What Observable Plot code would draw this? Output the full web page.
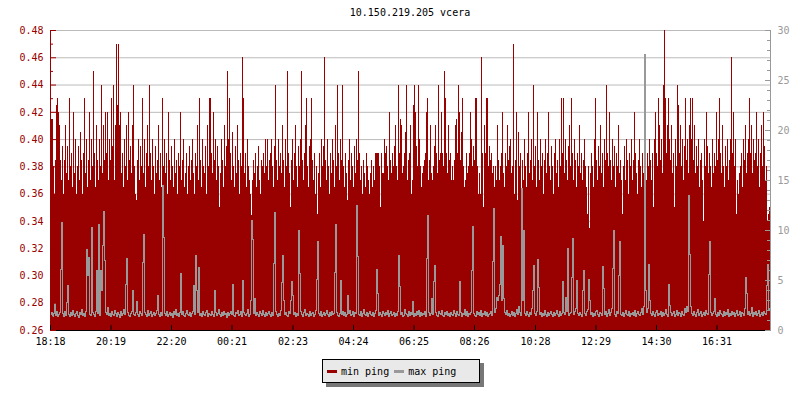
<!DOCTYPE html>
<html>
<head>
<meta charset="utf-8">
<script src="https://cdn.jsdelivr.net/npm/d3@7"></script>
<script src="https://cdn.jsdelivr.net/npm/@observablehq/plot@0.6"></script>
<style>
  html, body { margin: 0; padding: 0; background: #fff; }
  body { width: 800px; height: 400px; position: relative; overflow: hidden; font-family: "DejaVu Sans Mono", monospace; }
  #title { position: absolute; left: 50px; top: 0; width: 720px; height: 26px; line-height: 26px; text-align: center; font-size: 10px; color: #000; }
  #chart { position: absolute; left: 0; top: 26px; }
  #legend { position: absolute; left: 322px; top: 359px; width: 152px; height: 22px; border: 1px solid #000; background: #e9e9e9; box-shadow: 4px 4px 0 #777; display: flex; align-items: center; font-size: 10px; color: #000; box-sizing: content-box; padding-left: 4px; }
  #legend .sw { display: inline-block; width: 10px; height: 3px; margin-right: 4px; }
  #legend .lab { margin-right: 5px; }
</style>
</head>
<body>
<div id="title">10.150.219.205 vcera</div>
<div id="chart"></div>
<div id="legend"><span class="sw" style="background:#990000"></span><span class="lab">min ping</span><span class="sw" style="background:#999999"></span><span class="lab">max ping</span></div>
<script>
// ---- data (2-minute samples from 18:18 to 18:18 next day) ----
const minPing = [
0.40,0.415,0.415,0.38,0.36,0.385,0.425,0.43,0.42,0.41,0.385,0.37,0.395,0.36,0.385,0.41,0.375,0.395,0.37,0.43,
0.38,0.39,0.365,0.42,0.375,0.40,0.36,0.38,0.395,0.37,0.405,0.385,0.36,0.39,0.43,0.375,0.40,0.365,0.385,0.42,
0.37,0.40,0.38,0.45,0.39,0.365,0.41,0.385,0.37,0.40,0.38,0.44,0.375,0.41,0.385,0.42,0.39,0.42,0.37,0.40,
0.385,0.43,0.395,0.44,0.37,0.41,0.47,0.425,0.47,0.41,0.42,0.375,0.39,0.365,0.40,0.38,0.41,0.37,0.42,0.385,
0.395,0.375,0.41,0.44,0.38,0.36,0.355,0.385,0.40,0.37,0.395,0.38,0.43,0.375,0.40,0.365,0.39,0.41,0.38,0.44,
0.39,0.37,0.40,0.38,0.36,0.395,0.375,0.385,0.41,0.37,0.39,0.365,0.43,0.38,0.40,0.375,0.39,0.36,0.42,0.385,
0.37,0.395,0.38,0.365,0.40,0.375,0.385,0.36,0.39,0.38,0.42,0.37,0.385,0.40,0.365,0.375,0.39,0.36,0.38,0.395,
0.37,0.385,0.40,0.375,0.36,0.39,0.38,0.41,0.37,0.43,0.385,0.365,0.40,0.38,0.375,0.395,0.36,0.41,0.38,0.43,
0.43,0.39,0.375,0.42,0.385,0.40,0.37,0.395,0.38,0.35,0.375,0.40,0.385,0.365,0.41,0.38,0.395,0.45,0.40,0.43,
0.39,0.37,0.405,0.38,0.365,0.395,0.375,0.41,0.385,0.36,0.39,0.38,0.46,0.43,0.375,0.39,0.365,0.40,0.38,0.37,
0.36,0.344,0.37,0.385,0.375,0.39,0.365,0.38,0.395,0.37,0.36,0.385,0.38,0.39,0.375,0.40,0.38,0.40,0.37,0.385,
0.39,0.40,0.38,0.365,0.395,0.44,0.385,0.37,0.40,0.38,0.39,0.375,0.41,0.385,0.365,0.40,0.38,0.45,0.39,0.375,
0.35,0.385,0.40,0.37,0.39,0.41,0.38,0.365,0.395,0.38,0.40,0.45,0.385,0.37,0.39,0.41,0.43,0.38,0.365,0.395,
0.40,0.43,0.385,0.37,0.39,0.36,0.38,0.345,0.375,0.39,0.365,0.40,0.38,0.395,0.46,0.385,0.37,0.40,0.38,0.36,
0.39,0.375,0.40,0.385,0.365,0.41,0.38,0.44,0.39,0.37,0.40,0.385,0.44,0.38,0.365,0.39,0.375,0.355,0.385,0.40,
0.37,0.39,0.38,0.365,0.395,0.375,0.40,0.385,0.45,0.39,0.37,0.38,0.36,0.385,0.375,0.365,0.39,0.38,0.37,0.36,
0.375,0.385,0.365,0.38,0.37,0.39,0.39,0.39,0.39,0.38,0.35,0.39,0.375,0.375,0.40,0.39,0.395,0.38,0.37,0.42,
0.385,0.375,0.39,0.38,0.395,0.41,0.38,0.37,0.44,0.39,0.415,0.41,0.375,0.38,0.39,0.405,0.44,0.37,0.385,0.39,
0.41,0.36,0.37,0.425,0.44,0.42,0.395,0.38,0.44,0.40,0.38,0.365,0.375,0.38,0.385,0.39,0.42,0.43,0.37,0.385,
0.41,0.375,0.37,0.38,0.395,0.41,0.39,0.375,0.44,0.385,0.39,0.42,0.39,0.38,0.45,0.43,0.39,0.375,0.41,0.385,
0.39,0.37,0.38,0.37,0.385,0.41,0.415,0.39,0.44,0.42,0.385,0.405,0.43,0.38,0.365,0.37,0.39,0.375,0.38,0.39,
0.42,0.40,0.38,0.395,0.385,0.43,0.43,0.38,0.36,0.375,0.36,0.46,0.39,0.35,0.41,0.39,0.43,0.43,0.38,0.395,
0.385,0.39,0.375,0.38,0.365,0.38,0.37,0.41,0.385,0.37,0.38,0.39,0.42,0.375,0.365,0.39,0.38,0.41,0.385,0.395,
0.40,0.375,0.38,0.47,0.36,0.385,0.42,0.355,0.405,0.38,0.39,0.355,0.385,0.37,0.40,0.38,0.365,0.39,0.42,0.375,
0.385,0.40,0.37,0.44,0.38,0.395,0.365,0.42,0.385,0.37,0.40,0.38,0.39,0.36,0.385,0.40,0.375,0.39,0.42,0.38,
0.37,0.395,0.38,0.36,0.39,0.40,0.375,0.385,0.365,0.40,0.38,0.43,0.39,0.43,0.375,0.40,0.385,0.37,0.395,0.41,
0.38,0.43,0.39,0.37,0.40,0.385,0.365,0.39,0.38,0.41,0.375,0.39,0.37,0.385,0.40,0.38,0.365,0.345,0.38,0.335,
0.375,0.39,0.38,0.365,0.40,0.43,0.385,0.37,0.395,0.38,0.41,0.375,0.39,0.365,0.40,0.385,0.44,0.39,0.38,0.42,
0.385,0.37,0.40,0.38,0.395,0.365,0.39,0.38,0.41,0.375,0.385,0.37,0.345,0.38,0.395,0.37,0.40,0.385,0.36,0.39,
0.38,0.40,0.37,0.385,0.42,0.39,0.375,0.36,0.385,0.40,0.38,0.365,0.39,0.375,0.385,0.41,0.37,0.39,0.38,0.40,
0.385,0.37,0.39,0.35,0.40,0.42,0.39,0.38,0.43,0.41,0.385,0.40,0.375,0.44,0.48,0.43,0.39,0.41,0.43,0.40,
0.385,0.41,0.375,0.39,0.35,0.40,0.38,0.44,0.425,0.39,0.41,0.38,0.40,0.37,0.395,0.43,0.385,0.40,0.375,0.41,
0.43,0.40,0.43,0.385,0.41,0.375,0.395,0.38,0.40,0.365,0.385,0.39,0.37,0.34,0.40,0.38,0.42,0.395,0.375,0.39,
0.38,0.365,0.40,0.375,0.39,0.38,0.42,0.385,0.40,0.43,0.39,0.375,0.41,0.38,0.365,0.395,0.38,0.40,0.37,0.385,
0.40,0.46,0.39,0.42,0.38,0.40,0.345,0.37,0.36,0.375,0.38,0.39,0.365,0.40,0.385,0.41,0.375,0.39,0.40,0.43,
0.39,0.41,0.375,0.40,0.385,0.39,0.42,0.38,0.40,0.365,0.39,0.41,0.38,0.42,0.395,0.37,0.38,0.34,0.345,0.35
];
const maxPing = [
1.6,1.8,1.4,1.7,2.7,1.5,1.9,1.4,1.6,1.8,6.1,10.8,1.7,1.4,1.9,1.5,2.8,4.5,1.6,1.4,
1.8,1.5,2.0,1.6,1.4,1.7,1.9,1.5,1.3,1.8,1.6,2.1,1.5,1.7,1.4,1.9,8.1,5.5,7.3,1.6,
1.5,10.3,1.8,1.6,1.4,1.9,6.0,1.7,10.6,1.5,6.0,4.0,8.5,11.9,7.0,1.8,1.6,2.3,1.5,1.7,
1.4,1.9,1.6,1.5,2.0,1.7,1.4,1.8,1.6,1.3,1.9,1.5,1.7,2.1,1.6,4.6,7.2,1.8,1.5,1.4,
1.7,1.9,4.0,1.6,1.5,1.8,2.9,1.6,1.4,1.9,1.7,1.5,6.8,9.6,1.8,1.6,1.4,2.0,1.5,1.7,
1.9,1.4,1.6,1.8,1.5,1.7,2.0,3.5,1.6,1.4,1.8,1.5,14.5,9.3,1.7,1.5,1.9,1.4,1.6,1.8,
1.5,1.7,1.3,1.9,1.6,2.1,1.5,1.7,1.4,1.8,5.7,1.6,1.9,1.5,1.4,1.7,2.0,1.6,1.5,1.8,
1.4,1.7,1.9,4.5,1.6,7.5,4.0,1.8,6.3,1.5,1.7,1.4,1.9,1.6,1.5,1.8,2.0,1.4,1.7,1.6,
1.5,1.9,1.6,1.4,4.0,1.8,1.5,1.7,2.1,1.6,1.4,1.8,1.5,1.9,1.6,1.7,1.3,1.8,1.5,1.7,
1.9,1.6,4.6,1.5,1.4,1.8,1.7,2.0,1.5,1.6,1.9,1.4,5.0,1.8,1.6,1.5,1.7,2.1,1.4,1.6,
3.0,11.0,9.1,1.7,3.2,1.5,1.8,1.6,1.4,1.9,1.7,1.5,2.0,1.6,1.4,1.8,1.5,1.7,1.9,1.6,
1.4,1.8,1.5,6.7,11.8,1.9,1.6,1.4,1.7,1.5,2.0,4.8,7.5,3.0,1.6,1.8,1.5,1.4,1.9,1.7,
3.0,4.9,3.5,1.6,1.8,1.4,1.7,1.5,10.0,5.7,1.9,1.6,1.4,1.8,2.1,1.5,1.7,1.6,1.4,1.9,
1.5,1.7,1.8,1.4,1.6,2.0,5.1,8.9,1.7,1.5,1.9,1.4,1.6,1.8,1.5,1.7,2.0,1.6,1.4,1.8,
1.5,1.9,1.6,1.7,5.8,10.6,1.8,1.5,1.4,1.7,5.0,1.6,1.9,1.5,1.8,1.4,1.6,3.5,1.7,2.0,
1.5,1.6,1.9,1.4,1.8,1.7,12.5,7.4,1.6,1.5,1.9,1.4,1.7,2.1,1.6,1.5,1.8,1.4,1.7,1.9,
1.6,1.5,1.8,1.4,1.7,2.0,6.1,3.7,1.5,1.8,1.6,1.4,1.9,1.7,1.5,1.8,1.6,2.0,1.4,1.7,
1.9,1.5,1.6,1.8,1.4,1.7,1.5,1.9,7.5,4.4,1.6,1.8,1.4,1.5,2.1,1.7,1.6,1.4,1.9,1.5,
1.8,1.6,2.9,1.4,1.7,1.5,1.9,1.6,2.0,1.4,1.8,1.5,1.7,1.6,1.9,1.4,7.2,11.5,1.8,1.5,
1.7,3.2,1.6,4.9,6.5,1.8,1.5,1.4,1.9,1.7,1.6,2.0,1.5,1.4,1.8,1.6,1.9,1.5,1.7,1.4,
1.8,1.6,1.5,2.0,1.7,1.4,1.9,1.6,1.5,4.9,1.8,1.4,1.7,1.6,2.1,1.5,1.9,1.4,1.7,1.6,
1.8,6.0,10.4,1.7,1.5,1.4,1.9,1.6,1.8,1.5,2.0,1.4,1.7,1.6,1.9,1.5,1.8,1.4,1.6,1.7,
1.9,1.5,6.9,12.2,1.8,2.2,3.3,3.0,3.5,4.6,9.4,3.0,8.5,3.2,1.8,1.6,2.0,1.5,1.7,1.4,
1.6,1.9,1.5,1.8,1.4,1.7,2.1,1.6,2.4,1.8,1.5,14.2,3.0,10.0,1.7,1.5,1.9,1.6,1.4,1.8,
1.6,2.2,4.0,6.5,1.7,1.5,1.9,7.1,4.3,1.6,1.8,1.4,1.7,1.5,2.0,1.6,1.4,1.8,1.5,1.7,
1.9,1.6,1.4,1.8,1.5,1.7,2.0,1.6,1.4,1.9,1.5,1.7,4.9,1.8,1.6,3.3,1.9,8.2,1.5,1.7,
1.8,5.3,9.2,1.6,1.9,2.2,5.0,1.7,1.5,1.8,1.6,1.4,4.0,6.0,1.7,1.5,1.9,2.1,5.1,3.0,
1.6,1.8,1.4,1.7,1.5,1.9,2.0,1.6,1.4,1.8,1.7,1.5,6.4,4.2,1.6,1.9,1.4,1.7,2.1,1.5,
1.8,2.2,6.2,10.0,1.6,1.4,1.9,1.7,5.5,8.9,1.6,1.5,1.8,1.4,1.7,2.0,1.6,1.5,1.9,1.4,
1.7,1.6,1.8,1.5,2.0,1.4,1.7,1.9,1.6,1.5,1.8,2.2,1.6,2.4,27.6,4.0,1.8,2.2,6.6,3.0,
1.7,1.5,1.9,1.6,1.4,1.8,2.0,1.5,1.7,1.6,1.9,1.4,1.8,1.5,1.7,2.1,1.6,1.4,4.6,2.5,
1.8,1.5,1.7,1.9,1.4,1.6,2.0,1.5,1.8,1.7,1.4,1.9,1.6,1.5,2.2,1.8,2.4,1.9,13.5,7.6,
2.4,1.7,1.5,1.9,1.6,1.4,1.8,2.1,1.5,1.7,1.9,1.4,1.6,1.8,1.5,2.0,1.7,1.6,5.6,8.9,
1.8,1.5,1.7,1.9,3.2,1.6,1.4,1.8,1.5,2.0,1.7,1.6,1.4,1.9,1.5,1.8,1.6,2.1,1.4,1.7,
1.5,1.9,1.6,1.8,1.4,1.7,2.0,1.5,1.6,1.9,1.4,1.8,1.7,1.5,2.2,5.3,3.7,1.6,1.9,1.5,
1.7,2.3,1.4,1.8,1.6,1.9,1.5,1.7,2.0,1.4,1.6,1.8,1.5,1.9,1.7,1.6,4.5,6.6,2.0,2.2
];
const tickLabels = ["18:18","20:19","22:20","00:21","02:23","04:24","06:25","08:26","10:28","12:29","14:30","16:31"];
const leftTicks = [0.26,0.28,0.30,0.32,0.34,0.36,0.38,0.40,0.42,0.44,0.46,0.48];
const leftMinor = [0.27,0.29,0.31,0.33,0.35,0.37,0.39,0.41,0.43,0.45,0.47];
const rightTicks = [0,5,10,15,20,25,30];
const rightMinor = [0,1,2,3,4,5,6,7,8,9,10,11,12,13,14,15,16,17,18,19,20,21,22,23,24,25,26,27,28,29,30];
const yDomain = [0.26, 0.48];
const rightDomain = [0, 30];
const startMs = Date.UTC(2024, 0, 1, 18, 18);
const stepMinutes = 2;
const spanMinutes = 1440;

// ---- derived tables ----
const MIN = 60000;
const xDomain = [new Date(startMs), new Date(startMs + spanMinutes * MIN)];
const k = (yDomain[1] - yDomain[0]) / (rightDomain[1] - rightDomain[0]);
const toLeft = v => yDomain[0] + (v - rightDomain[0]) * k;
const fromLeft = y => Math.round((y - yDomain[0]) / k + rightDomain[0]);

const table = minPing.map((v, i) => ({
  t0: new Date(startMs + i * stepMinutes * MIN),
  t1: new Date(startMs + (i + 1) * stepMinutes * MIN),
  min: v,
  max: maxPing[i]
}));
// step line: each max-ping sample spans its own interval
const linePts = table.flatMap(d => [{t: d.t0, v: toLeft(d.max)}, {t: d.t1, v: toLeft(d.max)}]);

const startMinOfDay = 18 * 60 + 18;
const tickTimes = tickLabels.map(s => {
  const [h, m] = s.split(":").map(Number);
  let mins = h * 60 + m - startMinOfDay;
  if (mins < 0) mins += 1440;
  return new Date(startMs + mins * MIN);
});
const labelByTime = new Map(tickTimes.map((t, i) => [+t, tickLabels[i]]));

const RED = "#990000", GREY = "#999999";

const chart = Plot.plot({
  width: 800,
  height: 326,
  marginLeft: 50,
  marginRight: 30,
  marginTop: 4,
  marginBottom: 22,
  style: {fontFamily: "'DejaVu Sans Mono', monospace", fontSize: "10px", background: "white", overflow: "visible"},
  x: {type: "utc", domain: xDomain, label: null},
  y: {domain: yDomain, label: null},
  marks: [
    Plot.gridY(leftTicks, {stroke: "#bbbbbb", strokeOpacity: 1}),
    Plot.rect(table, {x1: "t0", x2: "t1", y1: () => yDomain[0], y2: "min", fill: RED, shapeRendering: "crispEdges"}),
    Plot.line(linePts, {x: "t", y: "v", stroke: GREY, strokeWidth: 1, shapeRendering: "crispEdges"}),
    Plot.ruleX([xDomain[0]], {stroke: RED, shapeRendering: "crispEdges"}),
    Plot.ruleX([xDomain[1]], {stroke: GREY, shapeRendering: "crispEdges"}),
    Plot.ruleY([yDomain[0]], {stroke: "#000", shapeRendering: "crispEdges"}),
    // left axis
    Plot.axisY(leftTicks, {anchor: "left", tickSize: 0, tickPadding: 7, tickFormat: d3.format(".2f"), fill: RED, label: null}),
    Plot.axisY(leftTicks, {anchor: "left", tickSize: -6, tickFormat: () => "", stroke: RED, label: null}),
    Plot.axisY(leftMinor, {anchor: "left", tickSize: -3, tickFormat: () => "", stroke: RED, label: null}),
    // right axis
    Plot.axisY(rightTicks.map(toLeft), {anchor: "right", tickSize: 0, tickPadding: 7, tickFormat: d => String(fromLeft(d)), fill: GREY, label: null}),
    Plot.axisY(rightTicks.map(toLeft), {anchor: "right", tickSize: -6, tickFormat: () => "", stroke: GREY, label: null}),
    Plot.axisY(rightMinor.map(toLeft), {anchor: "right", tickSize: -4, tickFormat: () => "", stroke: GREY, label: null}),
    // x axis
    Plot.axisX(tickTimes, {anchor: "bottom", tickSize: 0, tickPadding: 7, tickFormat: d => labelByTime.get(+d), fill: "#000", label: null}),
    Plot.axisX(tickTimes, {anchor: "bottom", tickSize: -5, tickFormat: () => "", stroke: "#000", label: null})
  ]
});
document.getElementById("chart").appendChild(chart);
</script>
</body>
</html>
